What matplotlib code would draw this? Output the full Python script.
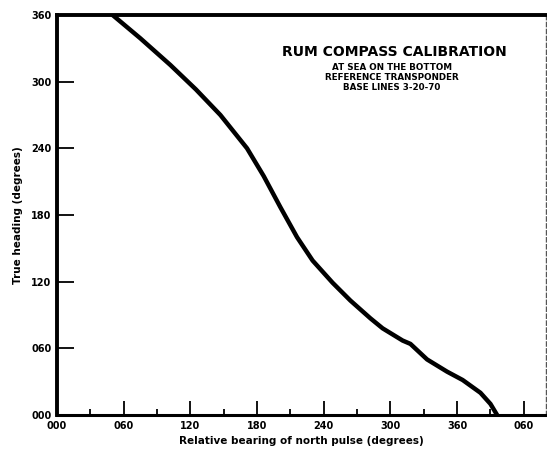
import matplotlib
matplotlib.use('Agg')
import matplotlib.pyplot as plt
from matplotlib.ticker import MultipleLocator

# values
rel_bearing = [50, 75, 102, 125, 147, 171, 186, 201, 216, 230, 248, 264, 282, 293,
               311, 318, 333, 351, 365, 381, 390, 396]
true_heading = [360, 339, 315, 293, 270, 240, 215, 187, 160, 139, 119, 103, 87, 78,
                67, 64, 50, 39, 31.5, 20, 10, 0]

x_ticks = [0, 60, 120, 180, 240, 300, 360, 420]
x_labels = ['000', '060', '120', '180', '240', '300', '360', '060']
y_ticks = [0, 60, 120, 180, 240, 300, 360]
y_labels = ['000', '060', '120', '180', '240', '300', '360']

title = 'RUM COMPASS CALIBRATION'
subtitle = ['AT SEA ON THE BOTTOM', 'REFERENCE TRANSPONDER', 'BASE LINES 3-20-70']

plt.rcParams['font.family'] = ['DejaVu Sans']
plt.rcParams['font.weight'] = 'bold'

fig = plt.figure(figsize=(5.47, 4.53), dpi=100)
ax = fig.add_axes([57/547, 38/453, 489/547, 400/453])

ax.plot(rel_bearing, true_heading, color='black', lw=3.2,
        solid_capstyle='round', solid_joinstyle='round')

ax.set_xlim(0, 440)
ax.set_ylim(0, 360)
ax.set_xticks(x_ticks)
ax.set_xticklabels(x_labels)
ax.set_yticks(y_ticks)
ax.set_yticklabels(y_labels)
ax.xaxis.set_minor_locator(MultipleLocator(30))

ax.tick_params(axis='x', which='major', direction='in', length=10, width=1.3,
               labelsize=7, pad=4)
ax.tick_params(axis='x', which='minor', direction='in', length=4, width=1.3)
ax.tick_params(axis='y', which='major', direction='in', length=12, width=1.3,
               labelsize=7, pad=4)

for side in ['left', 'top']:
    ax.spines[side].set_linewidth(2.8)
ax.spines['bottom'].set_linewidth(2.2)
ax.spines['right'].set_linewidth(1.0)
ax.spines['right'].set_linestyle((0, (3, 2)))
ax.spines['right'].set_color('#555555')

ax.set_xlabel('Relative bearing of north pulse (degrees)', fontsize=7.5,
              fontweight='bold', labelpad=4)
ax.set_ylabel('True heading (degrees)', fontsize=7.5, fontweight='bold', labelpad=6)

fig.text(394/547, 1 - 52/453, title, ha='center', va='center', fontsize=10,
         fontweight='heavy')
for i, line in enumerate(subtitle):
    fig.text(392/547, 1 - (67 + 10.5*i)/453, line, ha='center', va='center',
             fontsize=6.3, fontweight='bold')

fig.savefig('out.png', dpi=100)
